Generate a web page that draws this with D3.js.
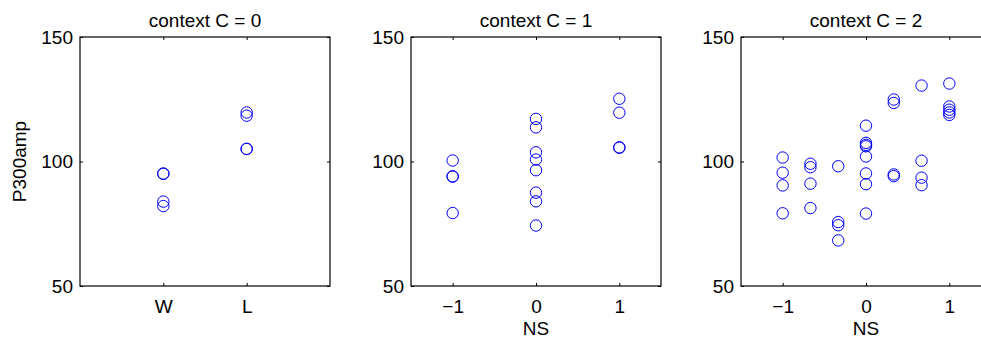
<!DOCTYPE html>
<html>
<head>
<meta charset="utf-8">
<script src="https://cdn.jsdelivr.net/npm/d3@7"></script>
<style>
  html, body { margin: 0; background: #fff; width: 981px; height: 343px; overflow: hidden; }
  svg { display: block; overflow: hidden; }
  text { font-family: "Liberation Sans", Arial, sans-serif; }
</style>
</head>
<body>
<div id="chart"></div>
<script>
// values
const outcomeLabels = ['W', 'L'];
const ampC0 = [
    [95.2, 95.0, 83.9, 82.1],      // W
    [119.7, 118.4, 105.1, 105.0]   // L
];

const nsLevelsC1 = [-1, 0, 1];
const ampC1 = [
    [100.4, 94.1, 93.9, 79.3],
    [117.1, 113.7, 103.7, 100.8, 96.5, 87.5, 84.0, 74.3],
    [125.2, 119.6, 105.7, 105.5]
];

const nsLevelsC2 = [-1, -2 / 3, -1 / 3, 0, 1 / 3, 2 / 3, 1];
const ampC2 = [
    [101.6, 95.5, 90.4, 79.2],
    [99.1, 97.7, 91.1, 81.3],
    [98.1, 75.7, 74.4, 68.3],
    [114.4, 107.5, 106.7, 106.1, 102.0, 95.2, 90.9, 79.1],
    [124.9, 123.5, 94.8, 94.1],
    [130.5, 100.3, 93.5, 90.5],
    [131.3, 122.1, 120.8, 119.7, 118.7]
];

const yTicks = [50, 100, 150];
const nsTicks = [-1, 0, 1];

const W = 981, H = 343;
const fontSize = 19;
const plotTop = 37, plotBottom = 286, panelW = 250;
const panelLeft = [80, 411, 741];

const svg = d3.select('#chart').append('svg')
    .attr('width', W)
    .attr('height', H);

// the third panel runs past the right edge of the figure
svg.append('clipPath').attr('id', 'page')
    .append('rect').attr('width', W).attr('height', H);
const root = svg.append('g').attr('clip-path', 'url(#page)');

const y = d3.scaleLinear().domain([50, 150]).range([plotBottom, plotTop]);

// flatten grouped values into points
function toPoints(xs, groups) {
    let pts = [];
    groups.forEach((g, i) => g.forEach(v => pts.push({ x: xs[i], y: v })));
    return pts;
}

const nsFmt = d => d < 0 ? '\u2212' + Math.abs(d) : d;

const panels = [
    { title: 'context C = 0', domain: [0, 3], ticks: [1, 2], fmt: (d, i) => outcomeLabels[i],
      pts: toPoints([1, 2], ampC0), ylab: 'P300amp', xlab: '' },
    { title: 'context C = 1', domain: [-1.5, 1.5], ticks: nsTicks, fmt: nsFmt,
      pts: toPoints(nsLevelsC1, ampC1), ylab: '', xlab: 'NS' },
    { title: 'context C = 2', domain: [-1.5, 1.5], ticks: nsTicks, fmt: nsFmt,
      pts: toPoints(nsLevelsC2, ampC2), ylab: '', xlab: 'NS' }
];

panels.forEach((p, k) => {
    const x0 = panelLeft[k];
    const x = d3.scaleLinear().domain(p.domain).range([x0, x0 + panelW]);
    const g = root.append('g');

    // points
    g.selectAll('circle')
        .data(p.pts)
        .enter()
        .append('circle')
        .attr('cx', d => x(d.x))
        .attr('cy', d => y(d.y))
        .attr('r', 5.7)
        .attr('fill', 'none')
        .attr('stroke', '#0000ff')
        .attr('stroke-width', 1);

    // axes, ticks pointing inward
    const bx = g.append('g').attr('transform', 'translate(0,' + plotBottom + ')')
        .call(d3.axisBottom(x).tickValues(p.ticks).tickFormat(p.fmt).tickSizeInner(-3).tickSizeOuter(0).tickPadding(14));
    const tx = g.append('g').attr('transform', 'translate(0,' + plotTop + ')')
        .call(d3.axisTop(x).tickValues(p.ticks).tickFormat('').tickSizeInner(-3).tickSizeOuter(0));
    const ly = g.append('g').attr('transform', 'translate(' + x0 + ',0)')
        .call(d3.axisLeft(y).tickValues(yTicks).tickSizeInner(-3).tickSizeOuter(0).tickPadding(7));
    const ry = g.append('g').attr('transform', 'translate(' + (x0 + panelW) + ',0)')
        .call(d3.axisRight(y).tickValues(yTicks).tickFormat('').tickSizeInner(-3).tickSizeOuter(0));

    [bx, tx, ly, ry].forEach(a => {
        a.select('.domain').remove();
        a.selectAll('line').attr('stroke', '#000');
        a.selectAll('text')
            .attr('fill', '#000')
            .style('font-family', '"Liberation Sans", Arial, sans-serif')
            .style('font-size', fontSize + 'px');
    });
    bx.selectAll('text').attr('dy', null).attr('y', 313 - plotBottom);

    // box
    g.append('rect')
        .attr('x', x0)
        .attr('y', plotTop)
        .attr('width', panelW)
        .attr('height', plotBottom - plotTop)
        .attr('fill', 'none')
        .attr('stroke', '#000')
        .attr('stroke-width', 1.2);

    // title
    g.append('text')
        .attr('x', x0 + panelW / 2)
        .attr('y', 27)
        .attr('text-anchor', 'middle')
        .style('font-size', fontSize + 'px')
        .text(p.title);

    if (p.xlab) {
        g.append('text')
            .attr('x', x0 + panelW / 2)
            .attr('y', 335)
            .attr('text-anchor', 'middle')
            .style('font-size', fontSize + 'px')
            .text(p.xlab);
    }
    if (p.ylab) {
        g.append('text')
            .attr('transform', 'translate(26,' + (plotTop + plotBottom) / 2 + ') rotate(-90)')
            .attr('text-anchor', 'middle')
            .style('font-size', fontSize + 'px')
            .text(p.ylab);
    }
});
</script>
</body>
</html>
